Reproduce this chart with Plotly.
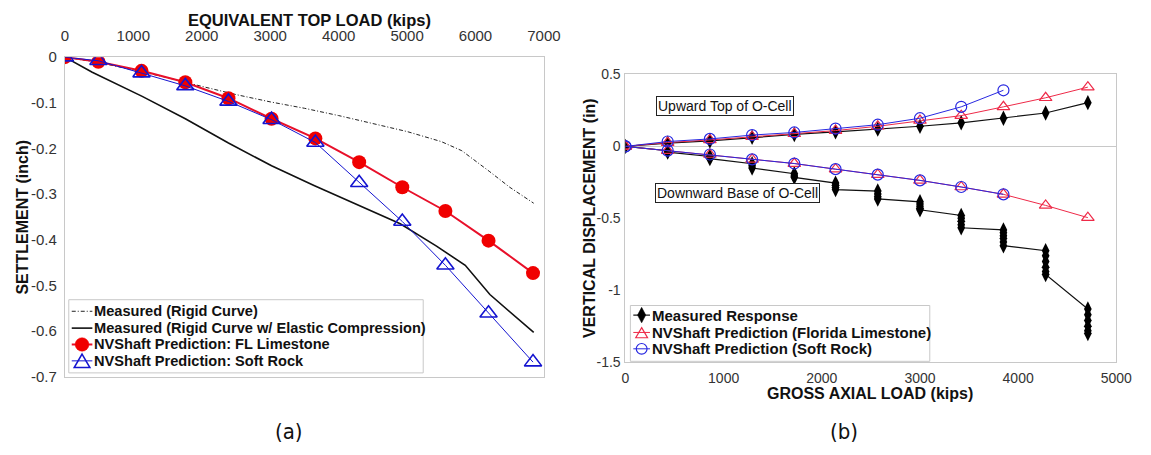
import plotly.graph_objects as go

W, H = 1151, 455

# ---------------- Panel (a) data ----------------
load_a = [0, 490, 1120, 1760, 2390, 3020, 3660, 4300, 4930, 5560, 6190, 6840]
settle_fl = [0, -0.010, -0.030, -0.055, -0.090, -0.135, -0.178, -0.230, -0.285, -0.337, -0.402, -0.473]
settle_soft = [0, -0.008, -0.035, -0.063, -0.097, -0.137, -0.187, -0.275, -0.360, -0.456, -0.561, -0.668]
rigid_load = [0, 500, 1000, 1500, 2000, 2500, 3000, 3500, 4000, 4500, 5000, 5500, 5800, 6200, 6500, 6850]
rigid_settle = [0, -0.012, -0.028, -0.045, -0.064, -0.082, -0.098, -0.112, -0.128, -0.145, -0.163,
                -0.185, -0.205, -0.250, -0.285, -0.320]
elastic_load = [0, 400, 1130, 1760, 2390, 3020, 3640, 4170, 4900, 5430, 5850, 6210, 6850]
elastic_settle = [0, -0.033, -0.086, -0.135, -0.188, -0.238, -0.281, -0.317, -0.365, -0.414,
                  -0.456, -0.520, -0.603]
legend_a = ["Measured (Rigid Curve)",
            "Measured (Rigid Curve w/ Elastic Compression)",
            "NVShaft Prediction: FL Limestone",
            "NVShaft Prediction: Soft Rock"]

# ---------------- Panel (b) data ----------------
load_b = [0, 430, 860, 1290, 1720, 2140, 2570, 3000, 3420, 3850, 4280, 4710]
up_measured = [0, 0.023, 0.038, 0.063, 0.083, 0.101, 0.120, 0.140, 0.164, 0.196, 0.232, 0.304]
up_fl = [0, 0.027, 0.045, 0.068, 0.088, 0.110, 0.140, 0.180, 0.214, 0.275, 0.338, 0.412]
load_soft = [0, 430, 860, 1290, 1720, 2140, 2570, 3000, 3420, 3850]
up_soft = [0, 0.034, 0.052, 0.079, 0.097, 0.124, 0.151, 0.196, 0.275, 0.390]
down_fl = [0, -0.029, -0.056, -0.090, -0.119, -0.158, -0.196, -0.236, -0.282, -0.333, -0.410, -0.495]
down_soft = [0, -0.029, -0.056, -0.090, -0.119, -0.158, -0.196, -0.236, -0.282, -0.333]
down_meas_load = [0,
                  430, 430,
                  860, 860,
                  1290, 1290, 1290,
                  1720, 1720, 1720,
                  2140, 2140, 2140, 2140,
                  2570, 2570, 2570, 2570,
                  3000, 3000, 3000, 3000, 3000,
                  3420, 3420, 3420, 3420, 3420,
                  3850, 3850, 3850, 3850, 3850, 3850,
                  4280, 4280, 4280, 4280, 4280, 4280,
                  4710, 4710, 4710, 4710, 4710, 4710]
down_meas_disp = [0,
                  -0.030, -0.040,
                  -0.070, -0.085,
                  -0.120, -0.135, -0.150,
                  -0.190, -0.205, -0.215,
                  -0.255, -0.270, -0.285, -0.300,
                  -0.310, -0.330, -0.350, -0.365,
                  -0.385, -0.400, -0.415, -0.430, -0.440,
                  -0.480, -0.500, -0.520, -0.545, -0.565,
                  -0.580, -0.600, -0.620, -0.640, -0.665, -0.690,
                  -0.725, -0.760, -0.800, -0.840, -0.870, -0.890,
                  -1.130, -1.170, -1.210, -1.250, -1.280, -1.300]
legend_b = ["Measured Response",
            "NVShaft Prediction (Florida Limestone)",
            "NVShaft Prediction (Soft Rock)"]


def px(x):
    return x / W


def py(y):
    return 1 - y / H


FONT = "Liberation Sans, Arial, sans-serif"
BLACK = "#111111"
RED_A = "#f00000"
BLUE_A = "#1414d0"
RED_B = "#ee2a48"
BLUE_B = "#2828e0"

fig = go.Figure()

# ---- panel (a) traces ----
fig.add_trace(go.Scatter(x=rigid_load, y=rigid_settle, mode="lines",
                         line=dict(color="#222", width=1, dash="4px,2px,1px,2px"),
                         name=legend_a[0], xaxis="x", yaxis="y"))
fig.add_trace(go.Scatter(x=elastic_load, y=elastic_settle, mode="lines",
                         line=dict(color=BLACK, width=1.6),
                         name=legend_a[1], xaxis="x", yaxis="y"))
fig.add_trace(go.Scatter(x=load_a, y=settle_fl, mode="lines+markers",
                         line=dict(color="#e8102a", width=2),
                         marker=dict(symbol="circle", size=14, color=RED_A),
                         name=legend_a[2], xaxis="x", yaxis="y"))
fig.add_trace(go.Scatter(x=load_a, y=settle_soft, mode="lines+markers",
                         line=dict(color=BLUE_A, width=1),
                         marker=dict(symbol="triangle-up-open", size=15, color=BLUE_A,
                                     line=dict(width=1.6)),
                         name=legend_a[3], xaxis="x", yaxis="y"))

# ---- panel (b) traces ----
fig.add_trace(go.Scatter(x=load_b, y=up_measured, mode="lines+markers",
                         line=dict(color=BLACK, width=1.2),
                         marker=dict(symbol="diamond-tall", size=11, color="#000"),
                         name=legend_b[0], xaxis="x2", yaxis="y2"))
fig.add_trace(go.Scatter(x=down_meas_load, y=down_meas_disp, mode="lines+markers",
                         line=dict(color=BLACK, width=1.2),
                         marker=dict(symbol="diamond-tall", size=11, color="#000"),
                         name=legend_b[0], xaxis="x2", yaxis="y2"))
for yy in (up_fl, down_fl):
    fig.add_trace(go.Scatter(x=load_b, y=yy, mode="lines+markers",
                             line=dict(color=RED_B, width=1),
                             marker=dict(symbol="triangle-up-open", size=11, color=RED_B,
                                         line=dict(width=1.2)),
                             name=legend_b[1], xaxis="x2", yaxis="y2"))
for yy in (up_soft, down_soft):
    fig.add_trace(go.Scatter(x=load_soft, y=yy, mode="lines+markers",
                             line=dict(color=BLUE_B, width=1),
                             marker=dict(symbol="circle-open", size=11, color=BLUE_B,
                                         line=dict(width=1.2)),
                             name=legend_b[2], xaxis="x2", yaxis="y2"))

axis_common = dict(showline=True, mirror=True, linecolor="#c8c8c8", linewidth=1,
                   showgrid=False, ticks="", ticklen=0, zeroline=False,
                   tickfont=dict(family=FONT, size=15, color="#333"))

fig.update_layout(
    width=W, height=H,
    margin=dict(l=0, r=0, t=0, b=0),
    paper_bgcolor="white", plot_bgcolor="white",
    font=dict(family=FONT, color=BLACK),
    showlegend=False,
    xaxis=dict(axis_common, domain=[px(62), px(550)], range=[0, 7000], side="top",
               tickvals=[0, 1000, 2000, 3000, 4000, 5000, 6000, 7000], anchor="y",
               ticklabelstandoff=9),
    yaxis=dict(axis_common, domain=[py(382), py(50)], range=[-0.7, 0],
               tickvals=[0, -0.1, -0.2, -0.3, -0.4, -0.5, -0.6, -0.7],
               ticktext=["0", "-0.1", "-0.2", "-0.3", "-0.4", "-0.5", "-0.6", "-0.7"],
               anchor="x", ticklabelstandoff=4),
    xaxis2=dict(axis_common, domain=[px(633), px(1133)], range=[0, 5000],
                tickvals=[0, 1000, 2000, 3000, 4000, 5000], anchor="y2",
                tickfont=dict(family=FONT, size=14, color="#333"), ticklabelstandoff=3),
    yaxis2=dict(axis_common, domain=[py(367), py(68)], range=[-1.5, 0.5],
                tickvals=[0.5, 0, -0.5, -1, -1.5], ticktext=["0.5", "0", "-0.5", "-1", "-1.5"],
                anchor="x2", zeroline=True, zerolinecolor="#c8c8c8", zerolinewidth=1,
                tickfont=dict(family=FONT, size=14, color="#333"), ticklabelstandoff=1),
)

ann = []
shapes = []


def text(x, y, s, size, angle=0, xanchor="center", **kw):
    ann.append(dict(x=px(x), y=py(y), text=s, showarrow=False, textangle=angle,
                    xanchor=xanchor, yanchor="middle", xref="paper", yref="paper",
                    font=dict(family=kw.pop("family", FONT), size=size, color=BLACK), **kw))


# axis titles
text(311, 11, "<b>EQUIVALENT TOP LOAD (kips)</b>", 16.5)
text(19, 216, "<b>SETTLEMENT (inch)</b>", 16, angle=-90)
text(882, 399, "<b>GROSS AXIAL LOAD (kips)</b>", 16)
text(597, 217, "<b>VERTICAL DISPLACEMENT (in)</b>", 16, angle=-90)
# boxed labels
text(734, 101, "Upward Top of O-Cell", 14, bordercolor="#222", borderwidth=1, borderpad=1,
     bgcolor="white")
text(747, 191, "Downward Base of O-Cell", 14, bordercolor="#222", borderwidth=1, borderpad=1,
     bgcolor="white")
# captions
CAP = "Liberation Sans Narrow, DejaVu Sans Condensed, sans-serif"
text(290, 439, "(a)", 22, family=CAP)
text(856, 439, "(b)", 22, family=CAP)


# ---------- legends (drawn as shapes + text) ----------
def rect(x0, y0, x1, y1):
    shapes.append(dict(type="rect", xref="paper", yref="paper", x0=px(x0), x1=px(x1),
                       y0=py(y1), y1=py(y0), line=dict(color="#c8c8c8", width=1),
                       fillcolor="white", layer="above"))


def seg(x0, x1, y, color, width, dash="solid"):
    shapes.append(dict(type="line", xref="paper", yref="paper", x0=px(x0), x1=px(x1),
                       y0=py(y), y1=py(y), line=dict(color=color, width=width, dash=dash),
                       layer="above"))


def marker(kind, cx, cy, r, color, fill, lw=1.4):
    if kind == "circle":
        shapes.append(dict(type="circle", xref="paper", yref="paper",
                           x0=px(cx - r), x1=px(cx + r), y0=py(cy + r), y1=py(cy - r),
                           line=dict(color=color, width=lw), fillcolor=fill, layer="above"))
        return
    if kind == "triangle":
        pts = [(cx, cy - r), (cx + r, cy + 0.75 * r), (cx - r, cy + 0.75 * r)]
    else:  # tall diamond
        pts = [(cx, cy - r * 1.15), (cx + r * 0.6, cy), (cx, cy + r * 1.15), (cx - r * 0.6, cy)]
    path = "M " + " L ".join(f"{px(a):.6f},{py(b):.6f}" for a, b in pts) + " Z"
    shapes.append(dict(type="path", xref="paper", yref="paper", path=path,
                       line=dict(color=color, width=lw), fillcolor=fill, layer="above"))


# legend (a)
rect(66, 302, 427, 378)
rows_a = [314, 331.5, 348.5, 365.5]
seg(69, 90, rows_a[0], "#222", 1, "4px,2px,1px,2px")
seg(69, 90, rows_a[1], BLACK, 1.6)
seg(69, 90, rows_a[2], "#e8102a", 2)
marker("circle", 79.5, rows_a[2], 7, RED_A, RED_A, 0.5)
seg(69, 90, rows_a[3], BLUE_A, 1)
marker("triangle", 79.5, rows_a[3] + 1, 8, BLUE_A, "rgba(0,0,0,0)", 1.5)
for yy, s in zip(rows_a, legend_a):
    text(90, yy, f"<b>{s}</b>", 14.6, xanchor="left")

# legend (b)
rect(638, 308, 943, 366)
rows_b = [318, 336, 353]
seg(641, 658, rows_b[0], BLACK, 1.2)
marker("diamond", 649.5, rows_b[0], 7, "#000", "#000", 0.5)
seg(641, 658, rows_b[1], RED_B, 1)
marker("triangle", 649.5, rows_b[1] + 1, 6, RED_B, "rgba(0,0,0,0)", 1.2)
seg(641, 658, rows_b[2], BLUE_B, 1)
marker("circle", 649.5, rows_b[2], 5.5, BLUE_B, "rgba(0,0,0,0)", 1.2)
for yy, s in zip(rows_b, legend_b):
    text(658, yy, f"<b>{s}</b>", 15, xanchor="left")

fig.update_layout(annotations=ann, shapes=shapes)

fig.write_html("out.html")
